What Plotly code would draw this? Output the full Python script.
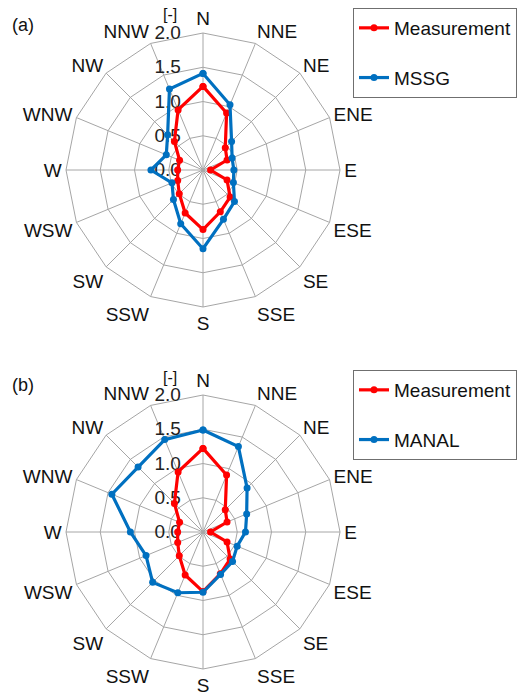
import plotly.graph_objects as go

directions = ["N", "NNE", "NE", "ENE", "E", "ESE", "SE", "SSE",
              "S", "SSW", "SW", "WSW", "W", "WNW", "NW", "NNW"]

measurement = [1.22, 0.90, 0.46, 0.38, 0.11, 0.38, 0.56, 0.66,
               0.87, 0.68, 0.49, 0.40, 0.37, 0.37, 0.59, 0.95]
mssg = [1.41, 1.03, 0.59, 0.46, 0.45, 0.48, 0.65, 0.78,
        1.15, 0.85, 0.61, 0.49, 0.76, 0.58, 0.73, 1.28]
manal = [1.49, 1.35, 0.91, 0.69, 0.62, 0.54, 0.61, 0.67,
         0.88, 0.96, 1.04, 0.90, 1.06, 1.44, 1.34, 1.46]

radial_ticks = [0.0, 0.5, 1.0, 1.5, 2.0]

RED = "#FF0000"
BLUE = "#0070C0"
GRID = "#A6A6A6"
FONT = "Liberation Sans, Arial, sans-serif"


def closed(vals):
    return list(vals) + [vals[0]]


theta = closed(directions)

fig = go.Figure()


def add_series(vals, name, color, polar, legend):
    fig.add_trace(go.Scatterpolar(
        r=closed(vals), theta=theta, name=name, mode="lines+markers",
        line=dict(color=color, width=3.2),
        marker=dict(color=color, size=7),
        subplot=polar, legend=legend, legendgroup=name + polar,
    ))


add_series(measurement, "Measurement", RED, "polar", "legend")
add_series(mssg, "MSSG", BLUE, "polar", "legend")
add_series(measurement, "Measurement", RED, "polar2", "legend2")
add_series(manal, "MANAL", BLUE, "polar2", "legend2")


def polar_layout(ydom):
    return dict(
        domain=dict(x=[66 / 521, 340 / 521], y=ydom),
        gridshape="linear",
        bgcolor="white",
        radialaxis=dict(
            range=[0, 2], tickvals=radial_ticks, tickformat=".1f",
            angle=90, side="counterclockwise", showline=False,
            tickangle=90,
            gridcolor=GRID, gridwidth=1,
            ticks="outside", ticklen=15, tickcolor="rgba(0,0,0,0)",
            tickfont=dict(size=19, color="#222222", family=FONT),
            layer="below traces",
        ),
        angularaxis=dict(
            type="category", categoryarray=directions,
            rotation=90, direction="clockwise",
            showline=True, linecolor=GRID, linewidth=1,
            gridcolor=GRID, gridwidth=1, ticks="",
            tickfont=dict(size=19, color="#111111", family=FONT),
            layer="below traces",
        ),
    )


def legend_layout(ytop):
    return dict(
        x=353 / 521, y=ytop, xanchor="left", yanchor="top",
        bordercolor="#6F6F6F", borderwidth=1, bgcolor="white",
        font=dict(size=19, color="#111111", family=FONT),
        tracegroupgap=22, itemwidth=30,
    )


fig.update_layout(
    width=521, height=695,
    margin=dict(l=0, r=0, t=0, b=0),
    paper_bgcolor="white",
    font=dict(family=FONT),
    polar=polar_layout([1 - 307 / 695, 1 - 33 / 695]),
    polar2=polar_layout([1 - 669 / 695, 1 - 395 / 695]),
    legend=legend_layout(1 - 8 / 695),
    legend2=legend_layout(1 - 370 / 695),
    annotations=[
        dict(text="(a)", x=10 / 521, y=1 - 25 / 695, xref="paper", yref="paper",
             xanchor="left", yanchor="middle", showarrow=False,
             font=dict(size=18, color="#111111", family=FONT)),
        dict(text="(b)", x=10 / 521, y=1 - 385 / 695, xref="paper", yref="paper",
             xanchor="left", yanchor="middle", showarrow=False,
             font=dict(size=18, color="#111111", family=FONT)),
        dict(text="[-]", x=170 / 521, y=1 - 15 / 695, xref="paper", yref="paper",
             xanchor="center", yanchor="middle", showarrow=False,
             font=dict(size=16, color="#111111", family=FONT)),
        dict(text="[-]", x=170 / 521, y=1 - 377 / 695, xref="paper", yref="paper",
             xanchor="center", yanchor="middle", showarrow=False,
             font=dict(size=16, color="#111111", family=FONT)),
    ],
)

fig.write_html("out.html")
